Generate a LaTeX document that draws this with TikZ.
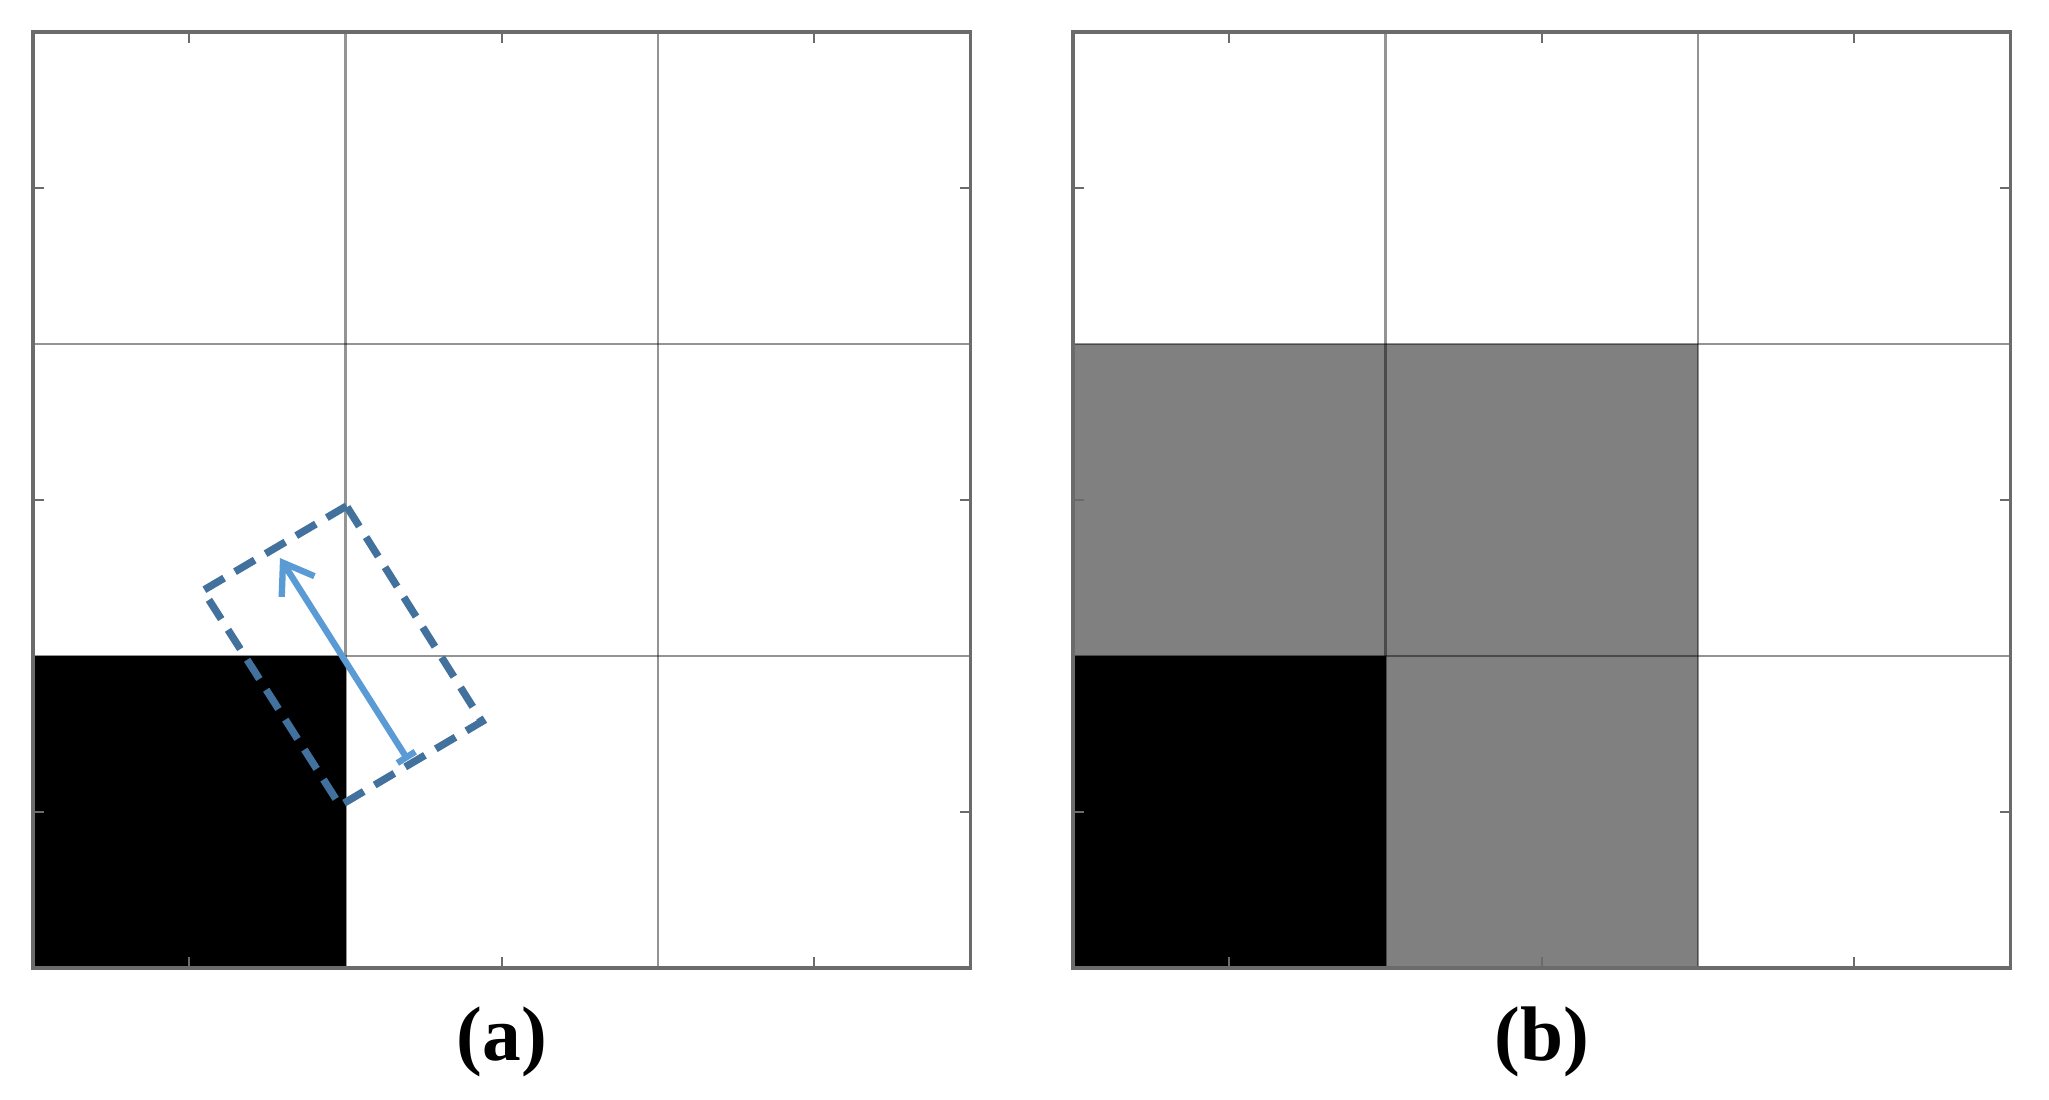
\documentclass[tikz,border=0pt]{standalone}
\usepackage{fontspec}
\setmainfont{Liberation Serif}
\usetikzlibrary{arrows.meta}
\definecolor{arrowblue}{HTML}{5B9BD5}
\definecolor{boxblue}{HTML}{41719C}
\definecolor{cellgray}{HTML}{808080}
\begin{document}
\begin{tikzpicture}[x=0.01cm,y=-0.01cm,
  gridline/.style={black,opacity=0.42,line width=0.75pt},
  frameline/.style={black!58,line width=1pt},
  tickmark/.style={black!58,line width=0.6pt},
  dashbox/.style={boxblue,line width=2.1pt,dash pattern=on 6.5pt off 3.6pt},
  vecarrow/.style={arrowblue,line width=1.8pt,{Bar[width=6pt]}-{Straight Barb[length=8pt,width=11pt]}},
  caption/.style={font=\fontsize{22}{26}\selectfont\bfseries,inner sep=0pt}]
\useasboundingbox[fill=white] (0,0) rectangle (2049,1099);
% cell fills
\fill[black] (33,656) rectangle (345.5,968);
\fill[black] (1073,656) rectangle (1385.5,968);
\fill[cellgray] (1073,344) rectangle (1698,656);
\fill[cellgray] (1385.5,656) rectangle (1698,968);
% grids, frames and ticks
\foreach \xo in {33,1073}{
  \foreach \i in {1,2}{
    \draw[gridline] ({\xo+312.5*\i},32) -- ({\xo+312.5*\i},968);
    \draw[gridline] (\xo,{32+312*\i}) -- ({\xo+937.5},{32+312*\i});
  }
  \draw[frameline] (\xo,32) rectangle ({\xo+937.5},968);
  \foreach \i in {0,1,2}{
    \draw[tickmark] ({\xo+156.25+312.5*\i},32) -- ++(0,11);
    \draw[tickmark] ({\xo+156.25+312.5*\i},968) -- ++(0,-11);
    \draw[tickmark] (\xo,{188+312*\i}) -- ++(11,0);
    \draw[tickmark] ({\xo+937.5},{188+312*\i}) -- ++(-11,0);
  }
}
% rotated dashed box and vector
\coordinate (bT) at (346.5,506);
\coordinate (bL) at (203,590.5);
\coordinate (bB) at (340,805.5);
\coordinate (bR) at (482,721.5);
\draw[dashbox] (bT) -- (bL) -- (bB) -- (bR) -- cycle;
\coordinate (vTail) at (408,760);
\coordinate (vTip) at (280,558);
\draw[vecarrow] (vTail) -- (vTip);
% captions
\node[caption] (labA) at (502,1042) {(a)};
\node[caption] (labB) at (1542,1042) {(b)};
\end{tikzpicture}
\end{document}
